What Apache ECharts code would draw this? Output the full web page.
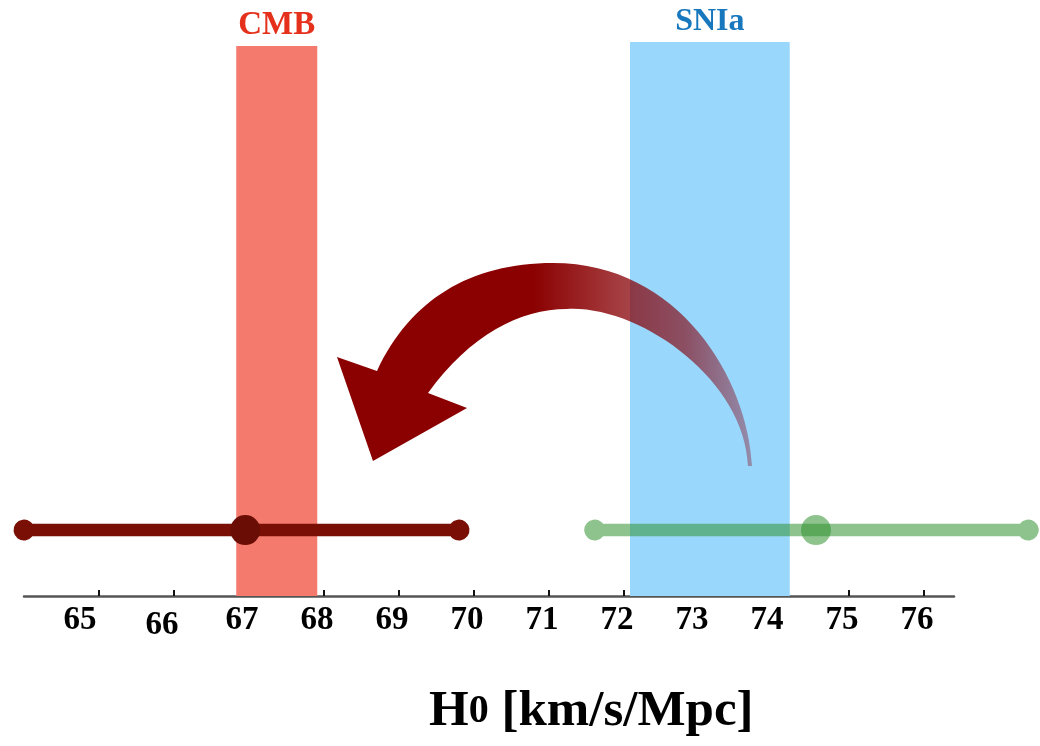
<!DOCTYPE html>
<html>
<head>
<meta charset="utf-8">
<title>H0 [km/s/Mpc]</title>
<script src="https://cdn.jsdelivr.net/npm/echarts@6/dist/echarts.min.js"></script>
<style>
  html, body { margin: 0; padding: 0; background: #ffffff; }
  #chart { width: 1040px; height: 746px; }
</style>
</head>
<body>
<div id="chart"></div>
<script>
// Tick values shown along the H0 axis
const tickValues = [65, 66, 67, 68, 69, 70, 71, 72, 73, 74, 75, 76];

// Measurement bands [low, high]
const cmbBand = [66.83, 67.91];
const sniaBand = [72.08, 74.21];

// Posterior ranges [low, high] and central values
const cmbRange = [64.0, 69.8];
const cmbMean = 66.95;
const sniaRange = [71.61, 77.39];
const sniaMean = 74.56;

// Vertical level (fraction of plot height) of the two ranges
const rowLevel = 0.119;

// Outline of the curved arrow, in data coordinates [H0, level]
const arrowOuter = [
  [73.707, 0.2347], [73.653, 0.3899], [72.747, 0.6011], [71.053, 0.6011],
  [69.947, 0.6011], [69.147, 0.5343], [68.707, 0.4061]
];
const arrowHead = [[68.173, 0.4314], [68.653, 0.2437], [69.907, 0.3394], [69.387, 0.3664]];
const arrowInner = [
  [69.947, 0.4711], [70.613, 0.5181], [71.24, 0.5181],
  [72.213, 0.5253], [73.613, 0.3899], [73.653, 0.2347]
];

const serif = "'Liberation Serif', 'DejaVu Serif', serif";

// Thick stroke with rounded, slightly swollen ends, drawn as one filled path
function rangeItem(color) {
  return function (params, api) {
    const a = api.coord([api.value(0), api.value(2)]);
    const b = api.coord([api.value(1), api.value(2)]);
    const r = 10.5, w = 6.3;
    const dx = Math.sqrt(r * r - w * w);
    const d = 'M' + (a[0] + dx) + ' ' + (a[1] - w) +
      ' L' + (b[0] - dx) + ' ' + (b[1] - w) +
      ' A' + r + ' ' + r + ' 0 1 1 ' + (b[0] - dx) + ' ' + (b[1] + w) +
      ' L' + (a[0] + dx) + ' ' + (a[1] + w) +
      ' A' + r + ' ' + r + ' 0 1 1 ' + (a[0] + dx) + ' ' + (a[1] - w) + ' Z';
    return { type: 'path', shape: { pathData: d }, style: { fill: color } };
  };
}

function arrowItem(params, api) {
  const P = p => api.coord(p);
  const o = arrowOuter.map(P), h = arrowHead.map(P), n = arrowInner.map(P);
  const pt = p => p[0] + ' ' + p[1];
  let d = 'M' + pt(o[0]);
  d += ' C' + pt(o[1]) + ' ' + pt(o[2]) + ' ' + pt(o[3]);
  d += ' C' + pt(o[4]) + ' ' + pt(o[5]) + ' ' + pt(o[6]);
  h.forEach(p => { d += ' L' + pt(p); });
  d += ' C' + pt(n[0]) + ' ' + pt(n[1]) + ' ' + pt(n[2]);
  d += ' C' + pt(n[3]) + ' ' + pt(n[4]) + ' ' + pt(n[5]);
  d += ' Z';
  return {
    type: 'path',
    shape: { pathData: d },
    style: {
      fill: {
        type: 'linear', x: 0, y: 0, x2: 1, y2: 0,
        colorStops: [
          { offset: 0, color: 'rgba(139,0,0,1)' },
          { offset: 0.47, color: 'rgba(139,0,0,1)' },
          { offset: 0.63, color: 'rgba(137,0,3,0.82)' },
          { offset: 0.68, color: 'rgba(135,0,5,0.76)' },
          { offset: 0.84, color: 'rgba(132,0,10,0.63)' },
          { offset: 0.96, color: 'rgba(134,0,20,0.42)' },
          { offset: 1, color: 'rgba(134,0,20,0.35)' }
        ]
      }
    }
  };
}

const chart = echarts.init(document.getElementById('chart'), null, { renderer: 'canvas' });

chart.setOption({
  backgroundColor: '#ffffff',
  animation: false,
  title: {
    text: '{h|H}{s|0}{h| [km/s/Mpc]}',
    left: 424,
    top: 681,
    textStyle: {
      rich: {
        h: { fontFamily: serif, fontWeight: 'bold', fontSize: 51, color: '#000' },
        s: { fontFamily: serif, fontWeight: 'bold', fontSize: 40, color: '#000' }
      }
    }
  },
  grid: { left: 24, top: 42, width: 930, bottom: 150, containLabel: false },
  xAxis: {
    type: 'value',
    min: 64,
    max: 76.4,
    interval: 1,
    axisLine: { show: true, lineStyle: { color: '#555', width: 2.5 } },
    axisTick: {
      show: true, inside: true, length: 6,
      customValues: tickValues,
      lineStyle: { color: '#111', width: 2 }
    },
    axisLabel: {
      customValues: tickValues,
      fontFamily: serif, fontWeight: 'bold', fontSize: 33, color: '#000',
      margin: 8,
      padding: [0, 14, 0, 0],
      formatter: function (v) {
        if (v === 65) return '{a|65}';
        if (v === 66) return '{b|66}';
        return String(v);
      },
      rich: {
        a: { fontFamily: serif, fontWeight: 'bold', fontSize: 33, color: '#000', padding: [0, 24, 0, 0] },
        b: { fontFamily: serif, fontWeight: 'bold', fontSize: 33, color: '#000', padding: [5, 10, 0, 0] }
      }
    },
    splitLine: { show: false }
  },
  yAxis: { type: 'value', min: 0, max: 1, show: false },
  series: [
    {
      // Measurement bands
      type: 'line',
      data: [],
      z: 1,
      markArea: {
        silent: true,
        data: [
          [
            {
              name: 'CMB', xAxis: cmbBand[0], yAxis: 0,
              itemStyle: { color: '#f47a6e' },
              label: {
                show: true, position: 'top', distance: 4,
                fontFamily: serif, fontWeight: 'bold', fontSize: 33, color: '#e5311c'
              }
            },
            { xAxis: cmbBand[1], yAxis: 0.993 }
          ],
          [
            {
              name: 'SNIa', xAxis: sniaBand[0], yAxis: 0,
              itemStyle: { color: '#99d8fc' },
              label: {
                show: true, position: 'top', distance: 4,
                fontFamily: serif, fontWeight: 'bold', fontSize: 32, color: '#1878bd'
              }
            },
            { xAxis: sniaBand[1], yAxis: 1 }
          ]
        ]
      }
    },
    {
      type: 'custom',
      z: 3,
      clip: false,
      renderItem: rangeItem('#7a1005'),
      encode: { x: [0, 1], y: 2 },
      data: [[cmbRange[0], cmbRange[1], rowLevel]]
    },
    {
      type: 'custom',
      z: 3,
      clip: false,
      renderItem: rangeItem('rgba(50,145,50,0.55)'),
      encode: { x: [0, 1], y: 2 },
      data: [[sniaRange[0], sniaRange[1], rowLevel]]
    },
    {
      type: 'scatter',
      z: 4,
      symbol: 'circle',
      symbolSize: 30,
      itemStyle: { color: '#6a0e05', opacity: 1 },
      data: [[cmbMean, rowLevel]]
    },
    {
      type: 'scatter',
      z: 4,
      symbol: 'circle',
      symbolSize: 30,
      itemStyle: { color: 'rgb(50,145,50)', opacity: 0.55 },
      data: [[sniaMean, rowLevel]]
    },
    {
      type: 'custom',
      z: 5,
      clip: false,
      renderItem: arrowItem,
      data: [[arrowOuter[0][0], arrowOuter[0][1]]]
    }
  ]
});
</script>
</body>
</html>
